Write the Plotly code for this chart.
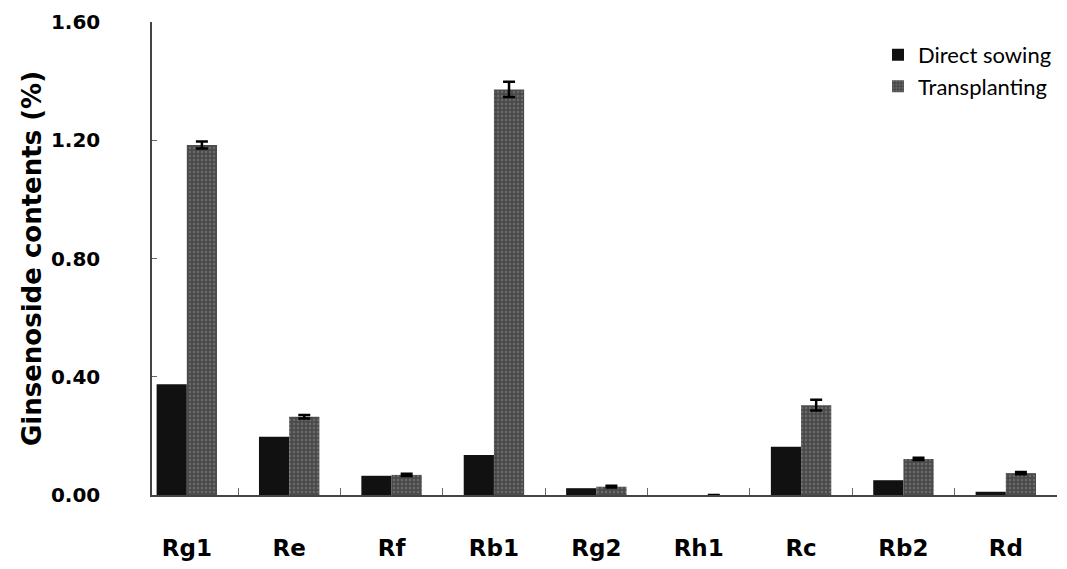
import plotly.graph_objects as go

categories = ["Rg1", "Re", "Rf", "Rb1", "Rg2", "Rh1", "Rc", "Rb2", "Rd"]
direct_sowing = [0.375, 0.197, 0.065, 0.135, 0.023, 0.0, 0.163, 0.050, 0.011]
direct_err = [0.0, 0.0, 0.0, 0.0, 0.0, 0.0, 0.0, 0.0, 0.0]
transplanting = [1.184, 0.265, 0.068, 1.372, 0.028, 0.0, 0.304, 0.122, 0.074]
transplant_err = [0.012, 0.006, 0.004, 0.026, 0.003, 0.0, 0.018, 0.004, 0.004]
y_ticks = [0.0, 0.4, 0.8, 1.2, 1.6]
y_tick_text = ["0.00", "0.40", "0.80", "1.20", "1.60"]

font_fam = "DejaVu Sans, sans-serif"

fig = go.Figure()
fig.add_trace(go.Bar(
    x=categories, y=direct_sowing, name="Direct sowing",
    marker=dict(color="#111111", line=dict(width=0)),
    error_y=dict(type="data", array=direct_err, visible=False),
))
fig.add_trace(go.Bar(
    x=categories, y=transplanting, name="Transplanting",
    marker=dict(color="#5c5c5c", line=dict(width=0),
                pattern=dict(shape=".", fgcolor="#8a8a8a", bgcolor="#4a4a4a", size=4, solidity=0.3)),
    error_y=dict(type="data", array=transplant_err, color="#000000", thickness=2.5, width=6),
))

fig.update_layout(
    width=1059, height=561,
    margin=dict(l=144, r=10, t=14, b=74, autoexpand=False),
    paper_bgcolor="white", plot_bgcolor="white",
    barmode="group", bargap=0.41, bargroupgap=0.0,
    font=dict(family=font_fam, color="#000000"),
    showlegend=True,
    legend=dict(
        x=1.0, y=0.975, xanchor="right", yanchor="top",
        font=dict(size=22, family="Lato, sans-serif", color="#000000"),
        bgcolor="rgba(0,0,0,0)", itemwidth=30,
    ),
)
fig.update_xaxes(
    range=[-0.34, 8.5], automargin=False,
    showline=True, linecolor="#444444", linewidth=1.5,
    ticks="inside", ticklen=7, tickcolor="#666666", tickson="boundaries",
    tickfont=dict(size=23, family=font_fam, color="#000000", weight="bold"),
    ticklabelstandoff=32,
    showgrid=False, zeroline=False,
)
fig.update_yaxes(
    range=[0, 1.6], tickvals=y_ticks, ticktext=y_tick_text, automargin=False,
    showline=True, linecolor="#444444", linewidth=1.5,
    ticks="inside", ticklen=5, tickcolor="#666666",
    tickfont=dict(size=20, family=font_fam, color="#000000", weight="bold"),
    ticklabelstandoff=46,
    showgrid=False, zeroline=False,
    title=dict(text="Ginsenoside contents (%)", font=dict(size=26, family=font_fam, color="#000000", weight="bold"), standoff=2),
)

fig.write_html("out.html")
